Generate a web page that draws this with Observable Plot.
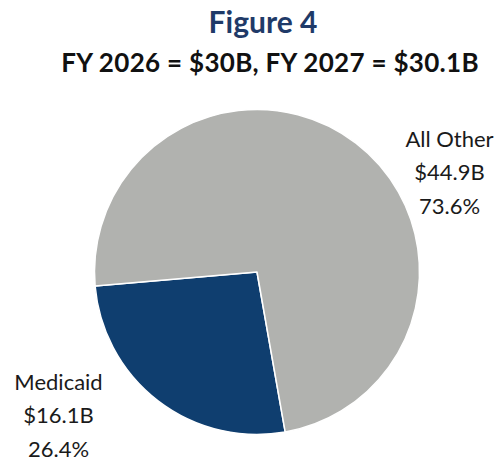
<!DOCTYPE html>
<html>
<head>
<meta charset="utf-8">
<script src="https://cdn.jsdelivr.net/npm/d3@7"></script>
<script src="https://cdn.jsdelivr.net/npm/@observablehq/plot@0.6"></script>
<style>
  html, body { margin: 0; padding: 0; background: #fff; }
  body { width: 499px; height: 457px; overflow: hidden; font-family: Lato, "Noto Sans", sans-serif; }
  #title { position: absolute; left: 0; top: 3px; width: 499px; padding-left: 27px; box-sizing: border-box; text-align: center; font-size: 30px; font-weight: 700; color: #1f3a68; line-height: 36px; white-space: nowrap; }
  #subtitle { position: absolute; left: 0; top: 47px; width: 499px; padding-left: 41px; box-sizing: border-box; text-align: center; font-size: 26px; font-weight: 700; color: #111; line-height: 31px; letter-spacing: 0.3px; white-space: nowrap; }
  #chart { position: absolute; left: 0; top: 90px; }
</style>
</head>
<body>
<div id="title">Figure 4</div>
<div id="subtitle">FY 2026 = $30B, FY 2027 = $30.1B</div>
<div id="chart"></div>
<script>
const categories = ["Medicaid", "All Other"];
const amounts = ["$16.1B", "$44.9B"];
const shares = [26.4, 73.6];
const colors = ["#0f3e6f", "#b1b2af"];

const W = 499, H = 367;
const R = 162.5;
const startDeg = 170;

const pie = d3.pie().sort(null).value(d => d.share)
  .startAngle(startDeg * Math.PI / 180)
  .endAngle((startDeg + 360) * Math.PI / 180);

const rows = categories.map((c, i) => ({
  category: c, amount: amounts[i], share: shares[i], color: colors[i],
  label: `${c}\n${amounts[i]}\n${shares[i].toFixed(1)}%`
}));
const arcs = pie(rows);

// label placement (layout, relative to pie centre in px)
const labelPos = { "Medicaid": [-199, 140], "All Other": [192, -103] };
const labels = rows.map(r => ({ ...r, lx: labelPos[r.category][0], ly: labelPos[r.category][1] }));

const pieMark = (index, scales, values, dimensions) => {
  const cx = scales.x(0), cy = scales.y(0);
  const r = Math.abs(scales.x(R) - scales.x(0));
  const arcGen = d3.arc().innerRadius(0).outerRadius(r);
  const g = d3.create("svg:g").attr("transform", `translate(${cx},${cy})`);
  g.selectAll("path").data(arcs).join("path")
    .attr("d", arcGen)
    .attr("fill", d => d.data.color)
    .attr("stroke", "#ffffff")
    .attr("stroke-width", 1.5)
    .attr("stroke-linejoin", "round");
  return g.node();
};

const plot = Plot.plot({
  width: W, height: H,
  margin: 0,
  style: { fontFamily: "Lato, 'Noto Sans', sans-serif", background: "transparent" },
  x: { domain: [-257, 242], range: [0, W], axis: null },
  y: { domain: [-182, 185], range: [0, H], axis: null },
  marks: [
    pieMark,
    Plot.text(labels, {
      x: "lx", y: "ly", text: "label",
      fontSize: 22, lineHeight: 1.52, fill: "#1a1a1a",
      textAnchor: "middle", lineAnchor: "middle"
    })
  ]
});
document.getElementById("chart").appendChild(plot);
</script>
</body>
</html>
